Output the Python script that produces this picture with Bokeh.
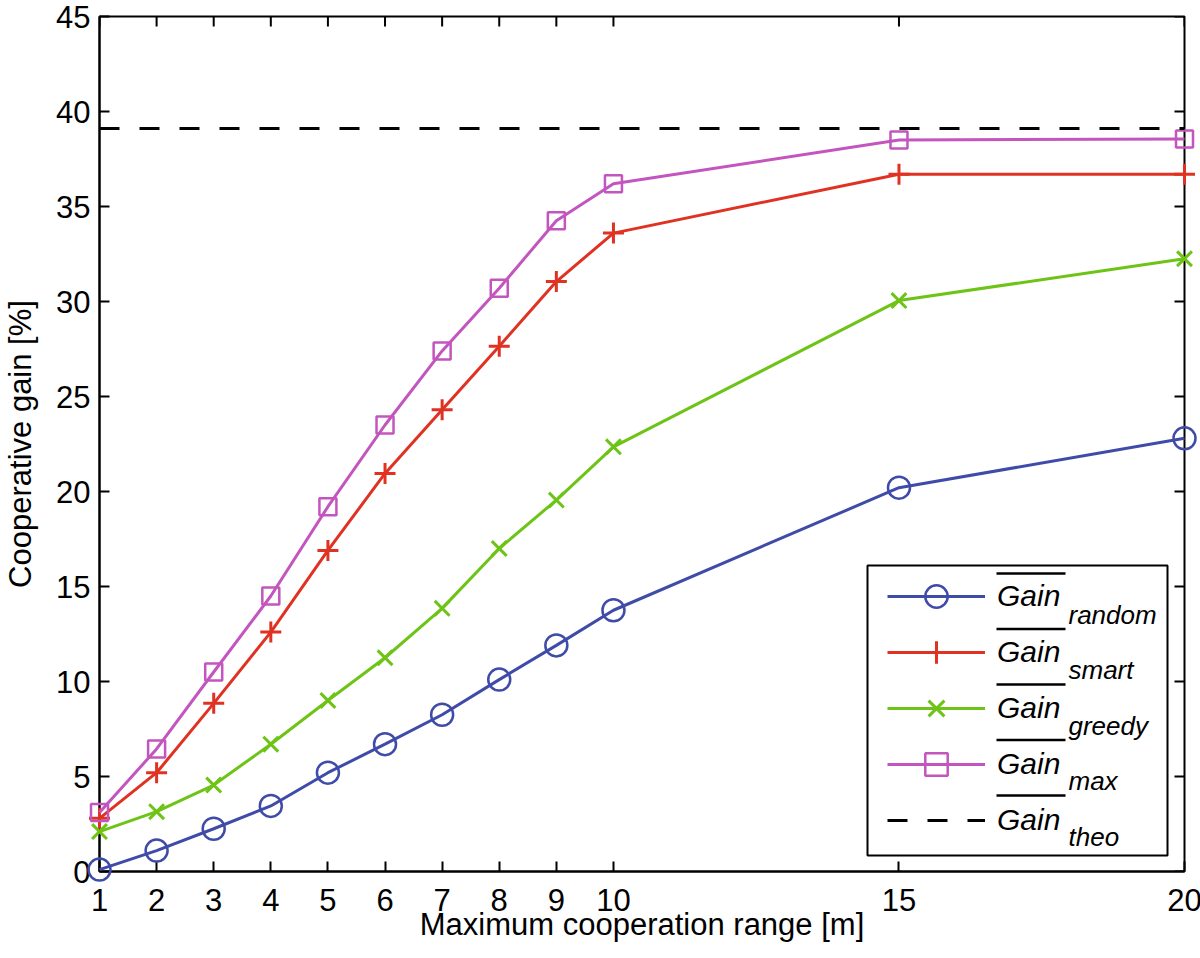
import math
from bokeh.plotting import figure
from bokeh.models import (Range1d, FixedTicker, Legend, LegendItem,
                          Label, BoxAnnotation, Arrow)
from bokeh.embed import file_html
from bokeh.resources import INLINE

# ---- data ----
x_vals = [1, 2, 3, 4, 5, 6, 7, 8, 9, 10, 15, 20]
gain_random = [0.1, 1.1, 2.25, 3.45, 5.2, 6.7, 8.25, 10.1, 11.9, 13.75, 20.2, 22.8]
gain_smart = [2.8, 5.2, 8.85, 12.6, 16.9, 20.95, 24.3, 27.65, 31.05, 33.6, 36.7, 36.7]
gain_greedy = [2.1, 3.15, 4.55, 6.7, 9.0, 11.25, 13.85, 17.0, 19.55, 22.35, 30.05, 32.25]
gain_max = [3.1, 6.45, 10.5, 14.5, 19.2, 23.5, 27.4, 30.7, 34.25, 36.2, 38.5, 38.55]
gain_theo = 39.1
x_ticks = [1, 2, 3, 4, 5, 6, 7, 8, 9, 10, 15, 20]
y_ticks = [0, 5, 10, 15, 20, 25, 30, 35, 40, 45]
subscripts = ["random", "smart", "greedy", "max", "theo"]

FONT = "Liberation Sans"
C_RANDOM = "#3F4BA8"
C_SMART = "#E03222"
C_GREEDY = "#6DC416"
C_MAX = "#C355BE"

p = figure(frame_width=1085, frame_height=855,
           x_range=Range1d(x_ticks[0], x_ticks[-1]), y_range=Range1d(y_ticks[0], y_ticks[-1]),
           output_backend="svg", toolbar_location=None,
           min_border_left=97, min_border_right=18, min_border_top=16, min_border_bottom=80,
           background_fill_color="white", border_fill_color="white")
p.grid.visible = False
p.outline_line_color = "black"
p.outline_line_width = 2

for ax in [p.xaxis[0], p.yaxis[0]]:
    ax.axis_line_width = 2
    ax.major_tick_line_width = 2
    ax.major_tick_in = 10
    ax.major_tick_out = 0
    ax.minor_tick_line_color = None
    ax.major_label_text_font = FONT
    ax.major_label_text_font_size = "31px"
    ax.major_label_text_color = "black"
    ax.axis_label_text_font = FONT
    ax.axis_label_text_font_size = "31px"
    ax.axis_label_text_font_style = "normal"
    ax.axis_label_text_color = "black"

p.xaxis[0].ticker = FixedTicker(ticks=x_ticks)
p.yaxis[0].ticker = FixedTicker(ticks=y_ticks)
p.xaxis[0].axis_label = "Maximum cooperation range [m]"
p.yaxis[0].axis_label = "Cooperative gain [%]"
p.xaxis[0].major_label_standoff = 17
p.xaxis[0].axis_label_standoff = -7
p.yaxis[0].major_label_standoff = 9
p.yaxis[0].axis_label_standoff = 15

# inward ticks on the top and right edges of the box (half of each dash is clipped)
p.scatter(x_ticks, [y_ticks[-1]] * len(x_ticks), marker="dash", angle=math.pi / 2,
          size=20, line_color="black", line_width=2)
p.scatter([x_ticks[-1]] * len(y_ticks), y_ticks, marker="dash",
          size=20, line_color="black", line_width=2)

LW = 3
r_rand_l = p.line(x_vals, gain_random, line_color=C_RANDOM, line_width=LW)
r_rand_m = p.scatter(x_vals, gain_random, marker="circle", size=22, fill_color=None,
                     line_color=C_RANDOM, line_width=2.5)
r_smart_l = p.line(x_vals, gain_smart, line_color=C_SMART, line_width=LW)
r_smart_m = p.scatter(x_vals, gain_smart, marker="cross", size=21,
                      line_color=C_SMART, line_width=3)
r_greedy_l = p.line(x_vals, gain_greedy, line_color=C_GREEDY, line_width=LW)
r_greedy_m = p.scatter(x_vals, gain_greedy, marker="x", size=21,
                       line_color=C_GREEDY, line_width=3)
r_max_l = p.line(x_vals, gain_max, line_color=C_MAX, line_width=LW)
r_max_m = p.scatter(x_vals, gain_max, marker="square", size=17, fill_color=None,
                    line_color=C_MAX, line_width=2.5)
r_theo = p.line([x_vals[0], x_vals[-1]], [gain_theo, gain_theo], line_color="black",
                line_width=3, line_dash="20 20")
for r in [r_rand_l, r_rand_m, r_smart_l, r_smart_m, r_greedy_l, r_greedy_m,
          r_max_l, r_max_m, r_theo]:
    r.level = "overlay"

# legend frame
box = BoxAnnotation(left=768, right=1068, top=306, bottom=16,
                    left_units="screen", right_units="screen",
                    top_units="screen", bottom_units="screen",
                    fill_color="white", fill_alpha=1.0,
                    line_color="black", line_width=2, line_alpha=1.0)
p.add_layout(box)

items = [
    LegendItem(label="Gain", renderers=[r_rand_l, r_rand_m]),
    LegendItem(label="Gain", renderers=[r_smart_l, r_smart_m]),
    LegendItem(label="Gain", renderers=[r_greedy_l, r_greedy_m]),
    LegendItem(label="Gain", renderers=[r_max_l, r_max_m]),
    LegendItem(label="Gain", renderers=[r_theo]),
]
legend = Legend(items=items, location=(778, 13), padding=10, spacing=0,
                glyph_width=98, glyph_height=56, label_height=56,
                label_standoff=12, label_text_font=FONT,
                label_text_font_size="30px", label_text_font_style="italic",
                label_text_color="black",
                border_line_alpha=0, background_fill_alpha=0)
p.add_layout(legend, "center")

for i, sub in enumerate(subscripts):
    p.add_layout(Arrow(end=None, x_start=897, y_start=298 - 55.5 * i,
                       x_end=966, y_end=298 - 55.5 * i,
                       start_units="screen", end_units="screen",
                       line_color="black", line_width=2.5))
    p.add_layout(Label(x=969, y=257 - 55.5 * i, x_units="screen", y_units="screen",
                       text=sub, text_font=FONT, text_font_size="26px",
                       text_font_style="italic", text_color="black",
                       text_baseline="middle", text_align="left"))

open("out.html", "w").write(file_html(p, INLINE))
